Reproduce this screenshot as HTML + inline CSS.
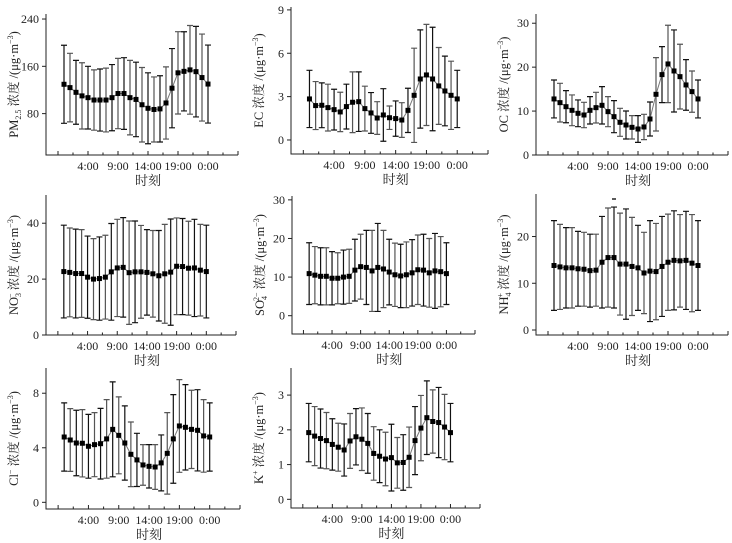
<!DOCTYPE html>
<html><head><meta charset="utf-8"><style>
html,body{margin:0;padding:0;background:#fff}
svg{display:block}
text{font-family:"Liberation Serif","Noto Serif CJK SC",serif;fill:#222}
</style></head><body>
<svg id="fig" width="732" height="543" viewBox="0 0 732 543" xmlns="http://www.w3.org/2000/svg"></svg>
<script>
const hours = [0,1,2,3,4,5,6,7,8,9,10,11,12,13,14,15,16,17,18,19,20,21,22,23,24];
const xTickHours = [4,9,14,19,24];
const xTickLabels = ["4:00","9:00","14:00","19:00","0:00"];

const pmMean = [129.6,124,116,110,107,103,103,103,107,114,114,107,104,95,89,87,88,98,123,149,151.5,154,151,141,130];
const pmSd = [66,58,54,56,53,51,52.5,54,56,59.5,60.6,63,63,63,60,55,56,61,67,69.6,67,75,76.6,73.6,66];
const pmTicks = [80,160,240];

const ecMean = [2.84,2.38,2.40,2.24,2.10,1.94,2.31,2.61,2.65,2.17,1.87,1.52,1.73,1.54,1.48,1.38,2.05,3.09,4.22,4.50,4.22,3.74,3.39,3.09,2.84];
const ecSd = [1.98,1.66,1.55,1.62,1.41,1.36,1.55,2.1,2.06,1.55,1.41,1.13,1.82,0.81,1.22,1.2,1.53,3.26,3.4,3.5,3.58,2.66,2.41,2.36,1.98];
const ecTicks = [0,3,6,9];

const ocMean = [12.76,11.92,11.0,10.17,9.49,9.11,10.17,10.78,11.31,9.87,8.73,7.44,6.83,6.30,5.92,6.38,8.2,13.82,18.3,20.73,19.13,17.84,15.95,14.43,12.76];
const ocSd = [4.32,4.4,3.65,3.5,3.04,2.89,3.12,3.49,4.26,3.42,3.65,3.19,3.19,2.66,3.04,2.88,3.87,8.35,6.38,8.81,9.34,7.37,5.77,4.7,4.32];
const ocTicks = [0,10,20,30];

const no3Mean = [22.7,22.4,22.0,22.0,20.7,20.0,20.2,20.7,22.6,24.0,24.2,22.3,22.6,22.6,22.4,21.9,21.2,21.9,22.5,24.6,24.5,23.9,24.0,23.2,22.7];
const no3Sd = [16.6,15.9,15.9,15.7,14.7,14.5,14.9,15.0,17.3,17.4,17.8,18.5,18.2,16.6,15.3,15.5,16.2,17.7,19.0,17.3,17.2,16.8,17.4,16.4,16.6];
const no3Ticks = [0,20,40];

const so4Mean = [10.9,10.5,10.2,10.2,9.7,9.7,10.0,10.2,11.8,12.7,12.5,11.6,12.5,12.1,11.3,10.6,10.3,10.6,11.1,11.9,11.8,11.1,11.6,11.4,10.9];
const so4Sd = [8.0,7.4,7.4,7.4,6.9,6.6,7.0,7.0,8.0,8.4,9.6,10.5,11.4,10.0,8.5,8.2,8.2,8.5,8.6,9.0,9.3,8.9,9.7,9.1,8.0];
const so4Ticks = [0,10,20,30];

const nh4Mean = [13.8,13.5,13.3,13.3,13.1,13.0,12.7,12.8,14.5,15.5,15.5,14.1,14.1,13.6,13.3,12.2,12.6,12.5,13.6,14.5,14.9,14.8,14.9,14.3,13.8];
const nh4Sd = [9.6,9.1,8.6,8.6,8.0,7.9,7.8,7.7,9.8,10.6,10.8,10.9,11.8,10.5,9.1,8.7,10.8,10.3,10.7,10.3,10.6,9.9,10.5,10.4,9.6];
const nh4Ticks = [0,10,20];

const clMean = [4.79,4.57,4.35,4.33,4.11,4.23,4.30,4.65,5.35,4.91,4.35,3.52,3.11,2.74,2.64,2.59,2.89,3.59,4.65,5.6,5.5,5.35,5.28,4.87,4.79];
const clSd = [2.5,2.3,2.4,2.47,2.34,2.35,2.59,2.88,3.48,2.82,2.72,2.37,1.95,1.49,1.59,1.64,2.05,2.99,3.25,3.4,3.13,2.87,2.98,2.66,2.5];
const clTicks = [0,4,8];

const kMean = [1.92,1.82,1.75,1.69,1.58,1.50,1.42,1.68,1.80,1.73,1.61,1.32,1.24,1.16,1.20,1.05,1.06,1.21,1.69,2.05,2.35,2.24,2.21,2.08,1.92];
const kSd = [0.84,0.85,0.85,0.81,0.74,0.69,0.75,0.79,0.81,0.9,0.86,0.77,0.76,0.77,0.96,0.73,0.8,0.87,0.98,0.94,1.06,0.91,1.01,0.94,0.84];
const kTicks = [0,1,2,3];

const NS = "http://www.w3.org/2000/svg";
const svg = document.getElementById('fig');
function mk(tag, attrs, parent){ const e=document.createElementNS(NS,tag); for(const k in attrs) e.setAttribute(k,attrs[k]); (parent||svg).appendChild(e); return e; }

const panels = [
 {id:'pm25', L:46,R:238,T:14,B:155, ymin:10, ymax:248.5, mean:pmMean, sd:pmSd, ticks:pmTicks, lab:['PM','2.5','sub',' 浓度 /(μg·m','−3',')']},
 {id:'ec', L:291,R:488,T:7,B:154, ymin:-0.97, ymax:9.2, mean:ecMean, sd:ecSd, ticks:ecTicks, lab:['EC','','',' 浓度 /(μg·m','−3',')']},
 {id:'oc', L:536,R:728,T:14,B:155, ymin:0, ymax:32.1, mean:ocMean, sd:ocSd, ticks:ocTicks, lab:['OC','','',' 浓度 /(μg·m','−3',')']},
 {id:'no3', L:46,R:236,T:195,B:335, ymin:0, ymax:50.1, mean:no3Mean, sd:no3Sd, ticks:no3Ticks, lab:['NO','3','subsup',' 浓度 /(μg·m','−3',')'], ion:'−'},
 {id:'so4', L:292,R:475,T:196,B:334, ymin:-4.74, ymax:31, mean:so4Mean, sd:so4Sd, ticks:so4Ticks, lab:['SO','4','subsup',' 浓度 /(μg·m','−3',')'], ion:'2−'},
 {id:'nh4', L:536,R:728,T:194,B:335, ymin:-1.07, ymax:29.1, mean:nh4Mean, sd:nh4Sd, ticks:nh4Ticks, lab:['NH','4','subsup',' 浓度 /(μg·m','−3',')'], ion:'+'},
 {id:'cl', L:46,R:240,T:368,B:509, ymin:-0.49, ymax:9.85, mean:clMean, sd:clSd, ticks:clTicks, lab:['Cl','','sup',' 浓度 /(μg·m','−3',')'], ion:'−'},
 {id:'k', L:291,R:480,T:368,B:508, ymin:-0.25, ymax:3.78, mean:kMean, sd:kSd, ticks:kTicks, lab:['K','','sup',' 浓度 /(μg·m','−3',')'], ion:'+'}
];

panels.forEach(p=>{
  const g = mk('g',{});
  
  
  const xs = h => p.L + (h+3)/32*(p.R-p.L);
  const ys = v => p.B - (v-p.ymin)/(p.ymax-p.ymin)*(p.B-p.T);
  // axes
  const ax = mk('path',{d:`M${p.L},${p.T} V${p.B} H${p.R}`,fill:'none',stroke:'#222','stroke-width':1},g);
  
  
  // x ticks
  for(let h=-1; h<=29; h+=2.5){
    const major = Math.abs((h+1)%5)<0.01;
    mk('line',{x1:xs(h),x2:xs(h),y1:p.B,y2:p.B-(major?4:2.5),stroke:'#222','stroke-width':1},g);
  }
  xTickHours.forEach((h,i)=>{
    const t = mk('text',{x:xs(h),y:p.B+15,'text-anchor':'middle','font-size':12},g);
    t.textContent = xTickLabels[i];
    
    
  });
  const xt = mk('text',{x:(xs(4)+xs(24))/2,y:p.B+30,'text-anchor':'middle','font-size':13},g);
  xt.textContent='时刻';
  
  
  // y ticks
  p.ticks.forEach(v=>{
    mk('line',{x1:p.L-4,x2:p.L,y1:ys(v),y2:ys(v),stroke:'#222','stroke-width':1},g);
    const t = mk('text',{x:p.L-7,y:ys(v)+4,'text-anchor':'end','font-size':12},g);
    t.textContent = v;
    
    
  });
  // y label
  const cy = (p.T+p.B)/2;
  const yl = mk('text',{transform:`translate(${p.L-28},${cy}) rotate(-90)`,'text-anchor':'middle','font-size':12.5},g);
  
  
  const a = p.lab;
  const s1 = mk('tspan',{},yl); s1.textContent=a[0];
  if(a[2]==='sub'){ const s=mk('tspan',{'font-size':8,dy:3},yl); s.textContent=a[1]; const r=mk('tspan',{dy:-3},yl); r.textContent=a[3]; }
  else if(a[2]==='subsup'){ const s=mk('tspan',{'font-size':8,dy:3},yl); s.textContent=a[1]; const u=mk('tspan',{'font-size':8,dy:-8,dx:-5},yl); u.textContent=p.ion; const r=mk('tspan',{dy:5},yl); r.textContent=a[3]; }
  else if(a[2]==='sup'){ const u=mk('tspan',{'font-size':8,dy:-5},yl); u.textContent=p.ion; const r=mk('tspan',{dy:5},yl); r.textContent=a[3]; }
  else { const r=mk('tspan',{},yl); r.textContent=a[3]; }
  const sp = mk('tspan',{'font-size':8,dy:-5},yl); sp.textContent=a[4];
  const cl = mk('tspan',{dy:5},yl); cl.textContent=a[5];
  // error bars
  hours.forEach((h,i)=>{
    const x=xs(h), yu=ys(p.mean[i]+p.sd[i]), yd=ys(p.mean[i]-p.sd[i]);
    const e = mk('path',{d:`M${x},${yu} V${yd} M${x-3},${yu} H${x+3} M${x-3},${yd} H${x+3}`,stroke:i%2?'#555':'#111','stroke-width':1.2,fill:'none'},g);
    
    
  });
  // line
  const ln = mk('polyline',{points:hours.map((h,i)=>xs(h)+','+ys(p.mean[i])).join(' '),fill:'none',stroke:'#777','stroke-width':1},g);
  
  
  hours.forEach((h,i)=>{
    const m = mk('rect',{x:xs(h)-2.5,y:ys(p.mean[i])-2.5,width:5,height:5,fill:'#000'},g);
    
    
  });
  if(p.id==='nh4'){
    const d = mk('line',{x1:xs(10)-2,x2:xs(10)+2,y1:199,y2:199,stroke:'#222','stroke-width':1.5},g);
    
    
  }
});
</script>
</body></html>
